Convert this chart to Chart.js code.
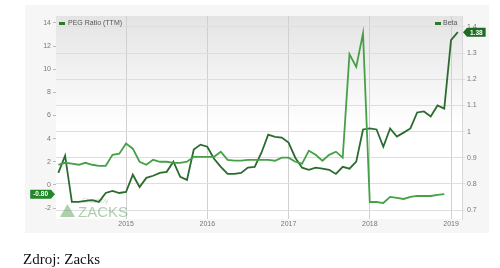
<!DOCTYPE html>
<html>
<head>
<meta charset="utf-8">
<script src="https://cdn.jsdelivr.net/npm/chart.js@4"></script>
<style>
  body { margin: 0; background: #fff; }
  #wrap { position: relative; width: 500px; height: 268px; }
  #chart { position: absolute; left: 0; top: 0; }
  #note { position: absolute; left: 23px; top: 252px; font: 15px/1 "Liberation Serif", "Times New Roman", serif; color: #111; }
</style>
</head>
<body>
<div id="wrap">
  <canvas id="chart" width="500" height="268"></canvas>
  <div id="note">Zdroj: Zacks</div>
</div>
<script>
// monthly points, Mar 2014 .. Feb 2019
const months = [
  '2014-03', '2014-04', '2014-05', '2014-06', '2014-07', '2014-08', '2014-09', '2014-10', '2014-11', '2014-12',
  '2015-01', '2015-02', '2015-03', '2015-04', '2015-05', '2015-06', '2015-07', '2015-08', '2015-09', '2015-10', '2015-11', '2015-12',
  '2016-01', '2016-02', '2016-03', '2016-04', '2016-05', '2016-06', '2016-07', '2016-08', '2016-09', '2016-10', '2016-11', '2016-12',
  '2017-01', '2017-02', '2017-03', '2017-04', '2017-05', '2017-06', '2017-07', '2017-08', '2017-09', '2017-10', '2017-11', '2017-12',
  '2018-01', '2018-02', '2018-03', '2018-04', '2018-05', '2018-06', '2018-07', '2018-08', '2018-09', '2018-10', '2018-11', '2018-12',
  '2019-01', '2019-02'
];

// PEG Ratio (TTM), left axis, ends Dec 2018
const pegRatio = [
  1.74, 1.91, 1.83, 1.74, 1.91, 1.74, 1.65, 1.65, 2.6, 2.7,
  3.57, 3.13, 2.0, 1.74, 2.17, 2.0, 2.0, 1.91, 1.91, 2.0, 2.43, 2.43,
  2.43, 2.43, 2.87, 2.17, 2.09, 2.09, 2.17, 2.17, 2.17, 2.17, 2.09, 2.35,
  2.35, 2.0, 1.83, 2.96, 2.6, 2.09, 2.6, 2.87, 2.35, 11.3, 10.2, 13.1,
  -1.48, -1.48, -1.57, -1.04, -1.13, -1.22, -1.04, -0.96, -0.96, -0.96, -0.87, -0.80
];

// Beta, right axis
const beta = [
  0.842, 0.908, 0.731, 0.731, 0.735, 0.738, 0.731, 0.765, 0.773, 0.765,
  0.769, 0.835, 0.788, 0.823, 0.831, 0.842, 0.846, 0.885, 0.827, 0.815, 0.931, 0.950,
  0.942, 0.896, 0.865, 0.838, 0.838, 0.842, 0.862, 0.865, 0.919, 0.988, 0.980, 0.977,
  0.958, 0.900, 0.862, 0.854, 0.862, 0.858, 0.854, 0.838, 0.865, 0.858, 0.885, 1.008,
  1.012, 1.008, 0.942, 1.012, 0.981, 0.996, 1.012, 1.073, 1.077, 1.058, 1.100, 1.088,
  1.350, 1.380
];

const yearTicks = [2015, 2016, 2017, 2018, 2019];
const pegTicks = [-2, 0, 2, 4, 6, 8, 10, 12, 14];
const betaTicks = [0.7, 0.8, 0.9, 1, 1.1, 1.2, 1.3, 1.4];

const PEG_COLOR = '#45a048';
const BETA_COLOR = '#2c6b30';
const FONT = '"Liberation Sans", Arial, sans-serif';

const toYear = s => +s.slice(0, 4) + (+s.slice(5, 7) - 1) / 12;

function drawTag(ctx, tipX, y, text, color, pointRight) {
  ctx.save();
  ctx.font = 'bold 6.5px ' + FONT;
  const w = ctx.measureText(text).width + 6;
  const h = 9;
  const bx = pointRight ? tipX - 4 - w : tipX + 4;
  ctx.fillStyle = color;
  ctx.beginPath();
  if (pointRight) {
    ctx.moveTo(bx, y - h / 2);
    ctx.lineTo(bx + w, y - h / 2);
    ctx.lineTo(tipX, y);
    ctx.lineTo(bx + w, y + h / 2);
    ctx.lineTo(bx, y + h / 2);
  } else {
    ctx.moveTo(tipX, y);
    ctx.lineTo(bx, y - h / 2);
    ctx.lineTo(bx + w, y - h / 2);
    ctx.lineTo(bx + w, y + h / 2);
    ctx.lineTo(bx, y + h / 2);
  }
  ctx.closePath();
  ctx.fill();
  ctx.fillStyle = '#fff';
  ctx.textAlign = 'center';
  ctx.textBaseline = 'middle';
  ctx.fillText(text, bx + w / 2, y + 0.5);
  ctx.restore();
}

const decor = {
  id: 'decor',
  beforeDraw(chart) {
    const { ctx, chartArea: a } = chart;
    ctx.save();
    ctx.fillStyle = '#f6f6f6';
    ctx.fillRect(25, 5, 464, 228);
    const g = ctx.createLinearGradient(0, a.top, 0, a.bottom);
    g.addColorStop(0, '#e4e4e4');
    g.addColorStop(0.55, '#ffffff');
    g.addColorStop(1, '#ffffff');
    ctx.fillStyle = g;
    ctx.fillRect(a.left, a.top, a.right - a.left, a.bottom - a.top);
    ctx.restore();
  },
  beforeDatasetsDraw(chart) {
    const { ctx, chartArea: a } = chart;
    ctx.save();
    // Zacks watermark
    const x0 = a.left + 4, yb = a.bottom - 2;
    ctx.fillStyle = 'rgba(70, 150, 70, 0.45)';
    ctx.beginPath();
    ctx.moveTo(x0, yb);
    ctx.lineTo(x0 + 7.5, yb - 13);
    ctx.lineTo(x0 + 15, yb);
    ctx.closePath();
    ctx.fill();
    ctx.font = '15px ' + FONT;
    ctx.textBaseline = 'alphabetic';
    ctx.fillText('ZACKS', x0 + 18, yb);
    ctx.fillStyle = 'rgba(110, 140, 110, 0.35)';
    ctx.font = '7px ' + FONT;
    ctx.fillText('Chart by', x0 + 22, yb - 14);
    ctx.restore();
  },
  afterDraw(chart) {
    const { ctx, chartArea: a, scales } = chart;
    ctx.save();
    ctx.font = '7px ' + FONT;
    ctx.textBaseline = 'middle';
    ctx.fillStyle = '#2a7a2a';
    ctx.fillRect(a.left + 3, a.top + 6, 6, 3);
    ctx.fillRect(a.right - 27, a.top + 6, 6, 3);
    ctx.fillStyle = '#555';
    ctx.fillText('PEG Ratio (TTM)', a.left + 12, a.top + 7.5);
    ctx.fillText('Beta', a.right - 19, a.top + 7.5);
    ctx.restore();

    const lastPeg = pegRatio[pegRatio.length - 1];
    const lastBeta = beta[beta.length - 1];
    drawTag(ctx, a.left - 1, scales.y.getPixelForValue(lastPeg), lastPeg.toFixed(2), '#23882a', true);
    drawTag(ctx, a.right + 1, scales.y1.getPixelForValue(lastBeta), lastBeta.toFixed(2), '#1f6b22', false);
  }
};

const tickFont = { size: 7, family: FONT };

new Chart(document.getElementById('chart'), {
  type: 'line',
  data: {
    datasets: [{
      label: 'PEG Ratio (TTM)',
      data: pegRatio.map((v, i) => ({ x: toYear(months[i]), y: v })),
      yAxisID: 'y',
      borderColor: PEG_COLOR,
      borderWidth: 1.8,
      pointRadius: 0,
      tension: 0
    }, {
      label: 'Beta',
      data: beta.map((v, i) => ({ x: toYear(months[i]), y: v })),
      yAxisID: 'y1',
      borderColor: BETA_COLOR,
      borderWidth: 1.8,
      pointRadius: 0,
      tension: 0
    }]
  },
  options: {
    responsive: false,
    animation: false,
    layout: { padding: { left: 25, right: 11, top: 16, bottom: 35 } },
    plugins: { legend: { display: false }, tooltip: { enabled: false } },
    scales: {
      x: {
        type: 'linear',
        min: 2014.138,
        max: 2019.135,
        afterBuildTicks: s => { s.ticks = yearTicks.map(v => ({ value: v })); },
        afterFit: s => { s.height = 14; },
        ticks: { font: tickFont, color: '#777', padding: 1, maxRotation: 0, callback: v => String(v) },
        grid: { color: '#d0d0d0', drawTicks: false },
        border: { display: false }
      },
      y: {
        position: 'left',
        min: -2.951,
        max: 14.605,
        afterBuildTicks: s => { s.ticks = pegTicks.map(v => ({ value: v })); },
        afterFit: s => { s.width = 31; },
        ticks: { font: tickFont, color: '#777', padding: 2, callback: v => String(v) },
        grid: { drawOnChartArea: false, tickLength: 3, color: '#bbb' },
        border: { display: false }
      },
      y1: {
        position: 'right',
        min: 0.6656,
        max: 1.442,
        afterBuildTicks: s => { s.ticks = betaTicks.map(v => ({ value: v })); },
        afterFit: s => { s.width = 27; },
        ticks: { font: tickFont, color: '#777', padding: 2, callback: v => String(v) },
        grid: { color: '#dedede', tickLength: 3 },
        border: { display: true, color: '#d8d8d8' }
      }
    }
  },
  plugins: [decor]
});
</script>
</body>
</html>
